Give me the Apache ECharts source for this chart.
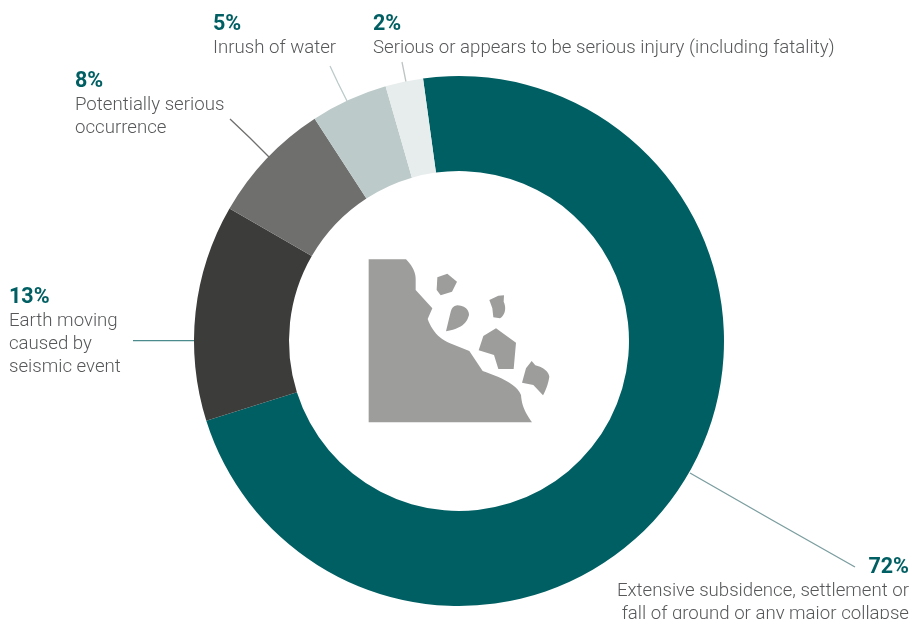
<!DOCTYPE html>
<html><head><meta charset="utf-8">
<style>html,body{margin:0;padding:0;background:#fff;overflow:hidden}#c{width:909px;height:619px}</style>
<script src="https://cdn.jsdelivr.net/npm/echarts@6/dist/echarts.min.js"></script>
</head><body><div id="c"></div>
<script>
const categories = [
  "Extensive subsidence, settlement or\nfall of ground or any major collapse",
  "Earth moving\ncaused by\nseismic event",
  "Potentially serious\noccurrence",
  "Inrush of water",
  "Serious or appears to be serious injury (including fatality)"
];
const percentLabels = ["72%", "13%", "8%", "5%", "2%"];
const sliceValues = [72.3, 13.2, 7.5, 4.7, 2.3];
const sliceColors = ["#005f63", "#3c3c3b", "#6f6f6e", "#bdcaca", "#e7ecec"];
const lineColors = ["#7b9d9f", "#4b8b8d", "#6f6f6e", "#bdcaca", "#bdc4c4"];
const labelAnchors = [[909, 555.5, "right"], [9, 286, "left"], [75, 70, "left"], [213, 13, "left"], [373, 13, "left"]];
const linePoints = [
  [[690, 473], [772, 520], [855, 567]],
  [[194, 340.7], [164, 340.7], [133, 340.7]],
  [[269, 157], [250, 138], [230, 119]],
  [[347, 101], [338, 83], [330, 66]],
  [[406, 82], [404, 72], [402, 62]]
];
const iconPaths = [
  "M56,58 L168,58 C185,75 197,95 197,118 L197,150 L247,205 L233,237 C245,270 265,295 300,310 L358,333 L398,393 C440,408 500,430 513,465 C515,500 530,525 546,547 L56,547 Z",
  "M262,112 L292,101 L321,125 L306,155 L272,166 L260,150 Z",
  "M322,196 C345,196 357,210 357,225 C350,250 335,265 288,274 L301,220 C304,205 310,197 322,196 Z",
  "M418,180 L445,167 L462,166 L461,185 C470,205 465,225 450,235 L430,232 L427,205 Z",
  "M400,288 L438,265 L498,308 L491,387 L445,387 L432,345 L386,331 Z",
  "M545,363 L556,376 C575,380 595,392 598,410 C595,430 588,450 579,466 L550,435 L516,428 L528,385 Z"
];

function flatten(d) {
  const pts = [];
  const re = /([MLC])([^MLCZ]*)/g;
  let m;
  while ((m = re.exec(d))) {
    const n = m[2].trim().split(/[\s,]+/).map(Number);
    if (m[1] === 'C') {
      const [x0, y0] = pts[pts.length - 1];
      for (let k = 1; k <= 12; k++) {
        const t = k / 12, u = 1 - t;
        pts.push([
          u*u*u*x0 + 3*u*u*t*n[0] + 3*u*t*t*n[2] + t*t*t*n[4],
          u*u*u*y0 + 3*u*u*t*n[1] + 3*u*t*t*n[3] + t*t*t*n[5]
        ]);
      }
    } else {
      pts.push([n[0], n[1]]);
    }
  }
  return pts;
}

const chart = echarts.init(document.getElementById('c'), null, {renderer: 'canvas'});
const FONT = 'Roboto';
chart.setOption({
  animation: false,
  backgroundColor: '#ffffff',
  graphic: {
    elements: [{
      type: 'group', x: 350, y: 240, scaleX: 1 / 3, scaleY: 1 / 3, silent: true,
      children: iconPaths.map(d => ({
        type: 'polygon',
        shape: {points: flatten(d)},
        style: {fill: '#9d9d9c'}
      }))
    }]
  },
  series: [{
    type: 'pie',
    center: [459, 341],
    radius: [170, 265],
    startAngle: 97.8,
    clockwise: true,
    silent: true,
    avoidLabelOverlap: false,
    itemStyle: {borderWidth: 0},
    data: sliceValues.map((v, i) => ({
      value: v,
      name: categories[i],
      itemStyle: {color: sliceColors[i]},
      labelLine: {show: true, lineStyle: {color: lineColors[i], width: 1.3}},
      label: {
        show: true,
        position: 'outside',
        align: labelAnchors[i][2],
        formatter: () => '{p|' + percentLabels[i] + '}\n' +
          categories[i].split('\n').map(s => '{t|' + s + '}').join('\n'),
        rich: {
          p: {fontFamily: FONT, fontWeight: 700, fontSize: 21.5, lineHeight: 24, color: '#005f63', align: labelAnchors[i][2]},
          t: {fontFamily: FONT, fontWeight: 300, fontSize: 18.65, lineHeight: 23, color: '#57585a', align: labelAnchors[i][2]}
        }
      }
    })),
    labelLayout: params => {
      const i = params.dataIndex;
      return {
        x: labelAnchors[i][0],
        y: labelAnchors[i][1],
        align: labelAnchors[i][2],
        verticalAlign: 'top',
        labelLinePoints: linePoints[i],
        hideOverlap: false
      };
    }
  }]
});
</script></body></html>
